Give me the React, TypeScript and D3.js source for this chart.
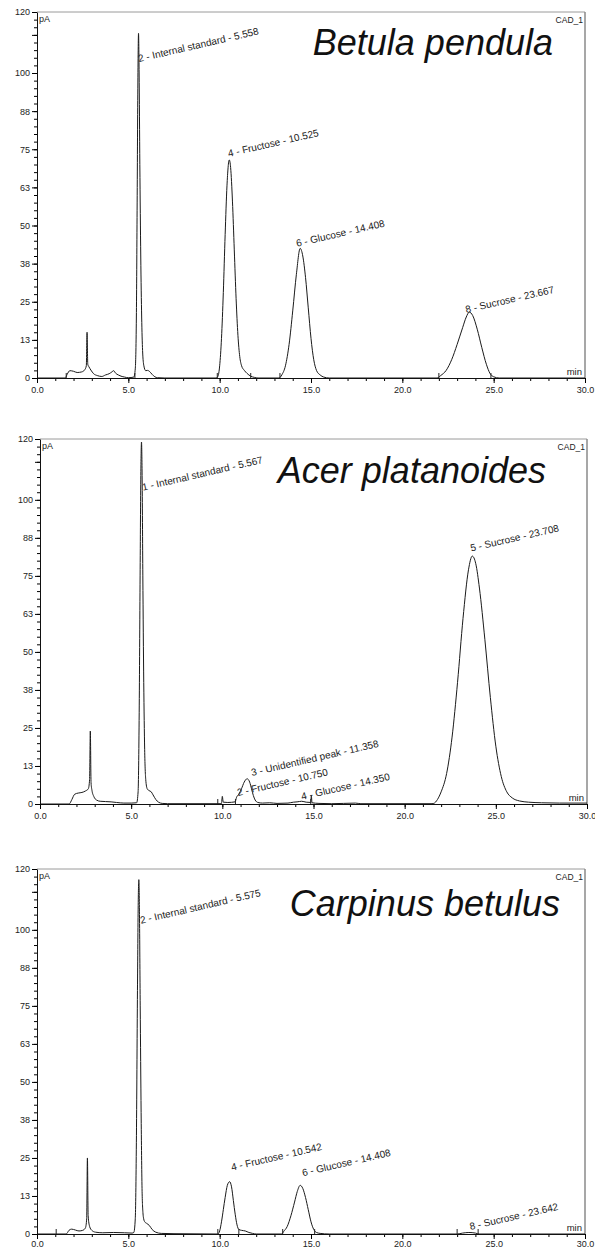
import { useEffect, useRef } from "react";
import * as d3 from "d3";

type Pt = [number, number];

// retention time (min) / signal (pA)
const betulaTrace: Pt[] = [
  [0, 0], [1.55, 0], [1.65, 1.2], [1.8, 2.4], [2.0, 2.2], [2.2, 1.8], [2.45, 2.0], [2.6, 2.6], [2.7, 4],
  [2.74, 15], [2.78, 4.5], [2.85, 3.6], [2.95, 2.6], [3.1, 1.4], [3.3, 0.8], [3.55, 0.5], [3.75, 1.0],
  [3.95, 1.4], [4.1, 2.0], [4.2, 2.4], [4.3, 1.6], [4.45, 1.0], [4.6, 0.6], [4.8, 0.3], [5.0, 0.1],
  [5.3, 0.3], [5.38, 3], [5.44, 20], [5.48, 55], [5.52, 95], [5.558, 113], [5.59, 100], [5.63, 70],
  [5.68, 40], [5.73, 20], [5.78, 9], [5.85, 4], [5.95, 2.4], [6.05, 2.5], [6.15, 2.2], [6.3, 1.2],
  [6.45, 0.4], [6.6, 0.1], [7, 0], [9.8, 0], [9.9, 0.5], [10.0, 4], [10.1, 13], [10.2, 28], [10.3, 47],
  [10.4, 63], [10.525, 71.5], [10.6, 69], [10.7, 58], [10.8, 42], [10.9, 26], [11.0, 14], [11.1, 7],
  [11.2, 4], [11.35, 2.5], [11.5, 1.5], [11.7, 0.6], [11.9, 0.2], [12.1, 0], [13.25, 0], [13.4, 1],
  [13.6, 4], [13.8, 11], [14.0, 22], [14.2, 34], [14.408, 42.5], [14.55, 40], [14.7, 33], [14.85, 23],
  [15.0, 13], [15.15, 6], [15.3, 2.5], [15.5, 1], [15.7, 0.3], [16, 0], [21.9, 0], [22.1, 0.8],
  [22.4, 2.5], [22.7, 6], [23.0, 11], [23.3, 16.5], [23.5, 20], [23.667, 21.6], [23.85, 20.5],
  [24.1, 16], [24.35, 10], [24.6, 4.5], [24.8, 1.5], [25.0, 0.4], [25.3, 0], [30, 0],
];

const acerTrace: Pt[] = [
  [0, 0], [1.6, 0], [1.75, 1.5], [1.9, 3.2], [2.1, 3.6], [2.3, 3.8], [2.5, 4.3], [2.65, 5], [2.72, 8],
  [2.76, 24], [2.8, 7], [2.85, 4.5], [2.95, 2.5], [3.1, 1.3], [3.3, 0.9], [3.6, 0.8], [3.9, 0.7],
  [4.2, 0.5], [4.6, 0.3], [5.0, 0.3], [5.3, 0.4], [5.38, 4], [5.44, 30], [5.49, 75], [5.53, 108],
  [5.567, 119], [5.6, 108], [5.64, 75], [5.69, 40], [5.74, 18], [5.8, 8], [5.88, 5], [5.98, 4.4],
  [6.1, 4], [6.2, 3], [6.35, 1.5], [6.5, 0.6], [6.7, 0.2], [7, 0.1], [9.95, 0.1], [10.0, 2.5],
  [10.05, 0.6], [10.3, 0.5], [10.7, 0.7], [10.78, 2.2], [10.9, 3.2], [11.05, 5], [11.2, 7.2],
  [11.358, 8.3], [11.5, 7.2], [11.6, 5], [11.7, 2.8], [11.8, 1.3], [11.95, 0.5], [12.2, 0.3],
  [12.6, 0.4], [13, 0.2], [13.6, 0.3], [13.9, 0.6], [14.1, 0.7], [14.35, 0.9], [14.6, 0.6],
  [14.85, 0.5], [14.88, 2.8], [14.92, 0.4], [15.3, 0.2], [16, 0.1], [17.3, 0.3], [17.6, 0.1],
  [21.5, 0.1], [21.6, 0.2], [21.8, 1.5], [22.0, 4], [22.3, 10], [22.6, 22], [22.9, 40], [23.2, 61],
  [23.5, 77], [23.708, 81.5], [23.9, 79], [24.1, 71], [24.4, 54], [24.7, 35], [25.0, 19], [25.3, 9],
  [25.6, 4], [25.9, 2], [26.3, 1], [26.8, 0.6], [27.5, 0.4], [28.5, 0.3], [30, 0.3],
];

const carpinusTrace: Pt[] = [
  [0, 0], [1.6, 0], [1.75, 1.2], [1.9, 1.6], [2.1, 1.3], [2.3, 1.0], [2.5, 1.2], [2.65, 2], [2.72, 5],
  [2.76, 25], [2.8, 6], [2.88, 2.5], [3.0, 1.2], [3.2, 0.6], [3.6, 0.4], [4.2, 0.5], [4.8, 0.4],
  [5.2, 0.3], [5.3, 0.5], [5.38, 5], [5.44, 30], [5.5, 80], [5.54, 108], [5.575, 116.5], [5.61, 105],
  [5.65, 75], [5.7, 40], [5.75, 15], [5.8, 7], [5.84, 5], [5.9, 4], [6.0, 3.5], [6.15, 2.8], [6.3, 1.5],
  [6.5, 0.6], [6.8, 0.2], [7.5, 0.1], [9.9, 0], [10.0, 1], [10.1, 4], [10.2, 8], [10.3, 12],
  [10.42, 16], [10.542, 17.2], [10.65, 15.5], [10.75, 11], [10.85, 6.5], [10.95, 3], [11.05, 1.5],
  [11.2, 1.2], [11.4, 1.0], [11.6, 0.5], [11.8, 0.2], [12, 0], [13.4, 0], [13.5, 0.8], [13.7, 2.5],
  [13.9, 6], [14.1, 10.5], [14.25, 14], [14.408, 16], [14.55, 15], [14.7, 12], [14.85, 8], [15.0, 4],
  [15.15, 1.5], [15.3, 0.5], [15.5, 0.2], [16, 0], [23.0, 0], [23.3, 0.3], [23.642, 0.5], [24.0, 0.3],
  [24.2, 0], [30, 0],
];

// peak labels: text, anchor retention time, anchor signal
const betulaPeaks = [
  { text: "2 - Internal standard - 5.558", rt: 5.58, pA: 103.6 },
  { text: "4 - Fructose - 10.525", rt: 10.5, pA: 72.5 },
  { text: "6 - Glucose - 14.408", rt: 14.23, pA: 43 },
  { text: "8 - Sucrose - 23.667", rt: 23.5, pA: 21.3 },
];
const acerPeaks = [
  { text: "1 - Internal standard - 5.567", rt: 5.65, pA: 103 },
  { text: "5 - Sucrose - 23.708", rt: 23.65, pA: 83 },
  { text: "3 - Unidentified peak - 11.358", rt: 11.63, pA: 9.2 },
  { text: "2 - Fructose - 10.750", rt: 10.86, pA: 2.6 },
  { text: "4 - Glucose - 14.350", rt: 14.37, pA: 1.3 },
];
const carpinusPeaks = [
  { text: "2 - Internal standard - 5.575", rt: 5.69, pA: 102 },
  { text: "4 - Fructose - 10.542", rt: 10.67, pA: 20.8 },
  { text: "6 - Glucose - 14.408", rt: 14.56, pA: 19 },
  { text: "8 - Sucrose - 23.642", rt: 23.73, pA: 1.3 },
];

// integration delimiters (min)
const betulaMarks = [1.6, 5.36, 9.87, 11.7, 13.3, 22.0, 24.85];
const acerMarks = [9.75, 10.72, 14.85];
const carpinusMarks = [1.05, 9.9, 11.05, 13.45, 15.2, 23.0, 24.15];

const species = ["Betula pendula", "Acer platanoides", "Carpinus betulus"];

const xTicks = [0, 5, 10, 15, 20, 25, 30];
const yTicks = [0, 12.5, 25, 37.5, 50, 62.5, 75, 87.5, 100, 112.5, 120];
const yTickLabels = ["0", "13", "25", "38", "50", "63", "75", "88", "100", "", "120"];

const W = 595;
const H = 1249;
const FONT = "'Liberation Sans', Arial, sans-serif";

// panel frames in page pixels
const layout = [
  { top: 12, bottom: 378, left: 37, right: 585, titleX: 553, titleY: 55, pad: 4 },
  { top: 439, bottom: 804, left: 40, right: 587, titleX: 546, titleY: 483, pad: 4 },
  { top: 869, bottom: 1234, left: 37, right: 585, titleX: 560, titleY: 916, pad: 2 },
];

export default function App() {
  const ref = useRef<SVGSVGElement>(null);

  useEffect(() => {
    if (!ref.current) return;
    const svg = d3.select(ref.current);
    svg.selectAll("*").remove();

    const traces = [betulaTrace, acerTrace, carpinusTrace];
    const peaks = [betulaPeaks, acerPeaks, carpinusPeaks];
    const marks = [betulaMarks, acerMarks, carpinusMarks];

    layout.forEach((p, i) => {
      const x = d3.scaleLinear().domain([0, 30]).range([p.left, p.right]);
      const y = d3.scaleLinear().domain([0, 120]).range([p.bottom, p.top]);
      const g = svg.append("g");

      // grey frame on top and right
      g.append("line")
        .attr("x1", p.left).attr("x2", p.right)
        .attr("y1", p.top).attr("y2", p.top)
        .attr("stroke", "#9a9a9a").attr("stroke-width", 1);
      g.append("line")
        .attr("x1", p.right).attr("x2", p.right)
        .attr("y1", p.top).attr("y2", p.bottom)
        .attr("stroke", "#8a8a8a").attr("stroke-width", 1.5);

      // trace
      const line = d3
        .line<Pt>()
        .x((d) => x(d[0]))
        .y((d) => y(d[1]))
        .curve(d3.curveMonotoneX);
      g.append("path")
        .datum(traces[i])
        .attr("d", line)
        .attr("fill", "none")
        .attr("stroke", "#1a1a1a")
        .attr("stroke-width", 1);

      // delimiter ticks
      g.selectAll(".mark")
        .data(marks[i])
        .enter()
        .append("line")
        .attr("x1", (d) => x(d)).attr("x2", (d) => x(d))
        .attr("y1", p.bottom).attr("y2", p.bottom - 5)
        .attr("stroke", "#222").attr("stroke-width", 1);

      // minor ticks
      const xMinor = d3
        .axisBottom(x)
        .tickValues(d3.range(0, 31, 1))
        .tickSize(3)
        .tickSizeOuter(0)
        .tickFormat(() => "");
      g.append("g").attr("transform", `translate(0,${p.bottom})`).call(xMinor).select(".domain").remove();
      const yMinor = d3
        .axisLeft(y)
        .tickValues(d3.range(0, 120.1, 2.5))
        .tickSize(3)
        .tickSizeOuter(0)
        .tickFormat(() => "");
      g.append("g").attr("transform", `translate(${p.left},0)`).call(yMinor).select(".domain").remove();

      // major axes
      const xAxis = d3
        .axisBottom(x)
        .tickValues(xTicks)
        .tickSize(5)
        .tickSizeOuter(0)
        .tickPadding(p.pad)
        .tickFormat((d) => d3.format(".1f")(d as number));
      const xg = g.append("g").attr("transform", `translate(0,${p.bottom})`).call(xAxis);

      const yAxis = d3
        .axisLeft(y)
        .tickValues(yTicks)
        .tickSize(5)
        .tickSizeOuter(0)
        .tickPadding(2)
        .tickFormat((_d, j) => yTickLabels[j]);
      const yg = g.append("g").attr("transform", `translate(${p.left},0)`).call(yAxis);

      [xg, yg].forEach((a) => {
        a.attr("font-family", FONT).attr("font-size", 9);
        a.selectAll("text").attr("fill", "#222");
        a.select(".domain").attr("stroke", "#111");
      });

      // unit labels
      g.append("text")
        .attr("x", p.left + 2).attr("y", p.top + 10)
        .attr("font-family", FONT).attr("font-size", 9).attr("fill", "#222")
        .text("pA");
      g.append("text")
        .attr("x", p.right - 3).attr("y", p.bottom - 3)
        .attr("text-anchor", "end")
        .attr("font-family", FONT).attr("font-size", 9.5).attr("fill", "#222")
        .text("min");
      g.append("text")
        .attr("x", p.right - 2).attr("y", p.top + 11)
        .attr("text-anchor", "end")
        .attr("font-family", FONT).attr("font-size", 8.5).attr("fill", "#222")
        .text("CAD_1");

      // species title
      g.append("text")
        .attr("x", p.titleX).attr("y", p.titleY)
        .attr("text-anchor", "end")
        .attr("font-family", FONT).attr("font-size", 36).attr("font-style", "italic")
        .attr("fill", "#111")
        .text(species[i]);

      // peak labels
      g.selectAll(".peak")
        .data(peaks[i])
        .enter()
        .append("text")
        .attr("transform", (d) => `translate(${x(d.rt)},${y(d.pA)}) rotate(-13)`)
        .attr("font-family", FONT)
        .attr("font-size", 10)
        .attr("fill", "#222")
        .text((d) => d.text);
    });
  }, []);

  return (
    <svg
      ref={ref}
      width={W}
      height={H}
      style={{ position: "absolute", left: 0, top: 0, background: "#fff" }}
    />
  );
}
